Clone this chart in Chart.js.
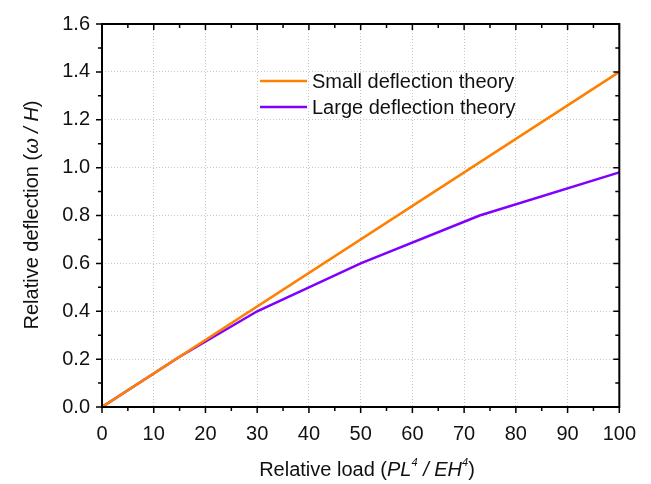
<!DOCTYPE html>
<html>
<head>
<meta charset="utf-8">
<script src="https://cdn.jsdelivr.net/npm/chart.js@4"></script>
<style>
  html, body { margin: 0; padding: 0; background: #fff; }
  #wrap { width: 651px; height: 484px; }
</style>
</head>
<body>
<div id="wrap"><canvas id="deflChart" width="651" height="484"></canvas></div>
<script>
// load values and deflections for both theories
const smallLoad = [0, 100];
const smallDefl = [0, 1.4];
const largeLoad = [0, 15, 30, 50, 73, 100];
const largeDefl = [0, 0.21, 0.4, 0.6, 0.8, 0.98];
const seriesNames = ['Small deflection theory', 'Large deflection theory'];
const seriesColors = ['#ff7f00', '#7f00ff'];

const FONT = '"Liberation Sans", Arial, sans-serif';

function pts(xs, ys) {
  return xs.map((x, i) => ({ x: x, y: ys[i] }));
}

// frame, ticks (outer on bottom/left, mirrored inward on top/right), legend, axis titles
const framePlugin = {
  id: 'frame',
  afterDraw(chart) {
    const ctx = chart.ctx;
    const a = chart.chartArea;
    const xs = chart.scales.x, ys = chart.scales.y;
    ctx.save();
    ctx.strokeStyle = '#000';
    ctx.lineWidth = 2;
    ctx.strokeRect(a.left, a.top, a.right - a.left, a.bottom - a.top);
    ctx.lineWidth = 1.5;
    ctx.beginPath();
    for (let v = 0; v <= 100; v += 5) {
      const px = xs.getPixelForValue(v);
      const len = v % 10 === 0 ? 6 : 4;
      ctx.moveTo(px, a.bottom); ctx.lineTo(px, a.bottom + len);
      ctx.moveTo(px, a.top); ctx.lineTo(px, a.top + len);
    }
    for (let k = 0; k <= 16; k++) {
      const py = ys.getPixelForValue(k / 10);
      const len = k % 2 === 0 ? 6 : 4;
      ctx.moveTo(a.left, py); ctx.lineTo(a.left - len, py);
      ctx.moveTo(a.right, py); ctx.lineTo(a.right - len, py);
    }
    ctx.stroke();

    // legend
    ctx.font = '20px ' + FONT;
    ctx.textBaseline = 'middle';
    ctx.textAlign = 'left';
    chart.data.datasets.forEach((ds, i) => {
      const y = 81 + i * 26;
      ctx.strokeStyle = ds.borderColor;
      ctx.lineWidth = 2.5;
      ctx.beginPath();
      ctx.moveTo(260, y); ctx.lineTo(307, y);
      ctx.stroke();
      ctx.fillStyle = '#111';
      ctx.fillText(ds.label, 312, y + 1);
    });

    // axis titles with italic symbols and superscripts
    function drawRich(segs, cx, cy, rot) {
      ctx.save();
      ctx.translate(cx, cy);
      ctx.rotate(rot);
      ctx.textBaseline = 'alphabetic';
      let w = 0;
      segs.forEach(s => { ctx.font = s.f; w += ctx.measureText(s.t).width; });
      let x = -w / 2;
      ctx.fillStyle = '#111';
      segs.forEach(s => {
        ctx.font = s.f;
        ctx.fillText(s.t, x, s.dy || 0);
        x += ctx.measureText(s.t).width;
      });
      ctx.restore();
    }
    const n = '20px ' + FONT, it = 'italic 20px ' + FONT, sup = 'italic 11px ' + FONT;
    drawRich([
      { t: 'Relative load (', f: n },
      { t: 'PL', f: it }, { t: '4', f: sup, dy: -10 },
      { t: ' / ', f: it },
      { t: 'EH', f: it }, { t: '4', f: sup, dy: -10 },
      { t: ')', f: n }
    ], 367, 476, 0);
    drawRich([
      { t: 'Relative deflection (', f: n },
      { t: 'ω', f: it }, { t: ' / ', f: it }, { t: 'H', f: it },
      { t: ')', f: n }
    ], 38, 215, -Math.PI / 2);
    ctx.restore();
  }
};

new Chart(document.getElementById('deflChart'), {
  type: 'scatter',
  data: {
    datasets: [{
      label: seriesNames[0],
      data: pts(smallLoad, smallDefl),
      showLine: true,
      borderColor: seriesColors[0],
      borderWidth: 2.5,
      pointRadius: 0,
      tension: 0
    }, {
      label: seriesNames[1],
      data: pts(largeLoad, largeDefl),
      showLine: true,
      borderColor: seriesColors[1],
      borderWidth: 2.5,
      pointRadius: 0,
      tension: 0
    }]
  },
  options: {
    responsive: false,
    animation: false,
    layout: { padding: { top: 22, right: 31, left: 0, bottom: 0 } },
    plugins: { legend: { display: false }, tooltip: { enabled: false } },
    scales: {
      x: {
        type: 'linear', min: 0, max: 100,
        afterFit(s) { s.height = 77; },
        ticks: { stepSize: 10, color: '#111', font: { family: FONT, size: 20 }, padding: 15, maxRotation: 0 },
        grid: { color: '#c8c8c8', lineWidth: 1, drawTicks: false },
        border: { display: false, dash: [1, 2] }
      },
      y: {
        type: 'linear', min: 0, max: 1.6,
        afterFit(s) { s.width = 102; },
        ticks: {
          stepSize: 0.2, color: '#111', font: { family: FONT, size: 20 }, padding: 12,
          callback: v => v.toFixed(1)
        },
        grid: { color: '#c8c8c8', lineWidth: 1, drawTicks: false },
        border: { display: false, dash: [1, 2] }
      }
    }
  },
  plugins: [framePlugin]
});
</script>
</body>
</html>
